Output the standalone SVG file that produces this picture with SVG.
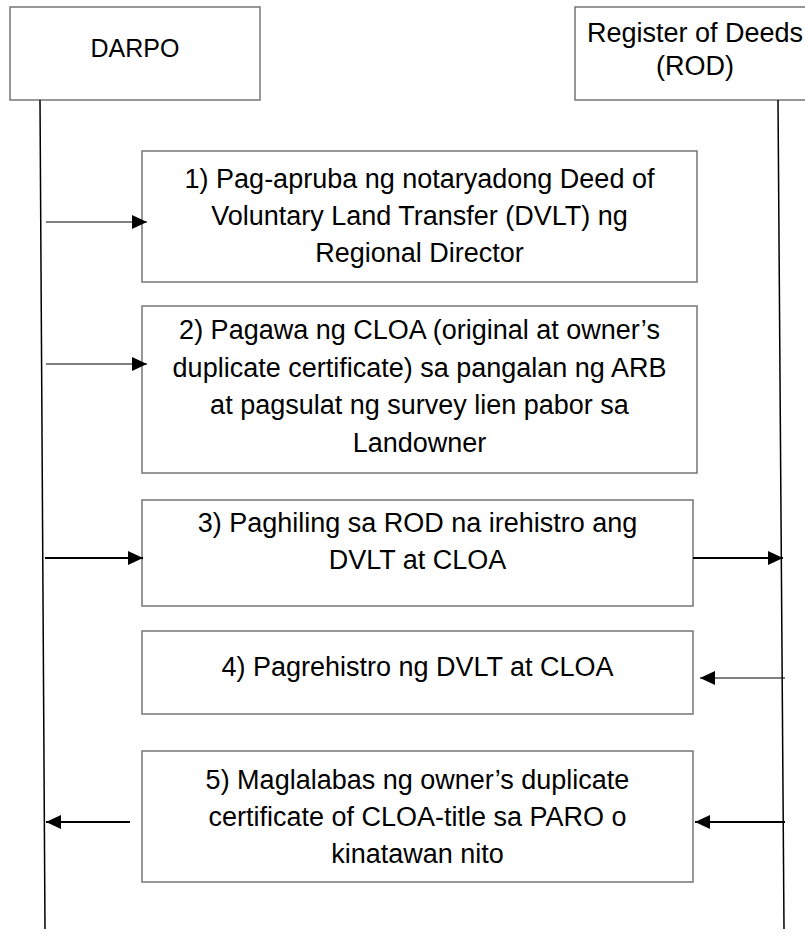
<svg xmlns="http://www.w3.org/2000/svg" width="805" height="939" viewBox="0 0 805 939">
  <style>
    .box { fill: #ffffff; stroke: #767676; stroke-width: 1.5; }
    .life { stroke: #000000; stroke-width: 1.5; fill: none; }
    .msg { stroke: #000000; stroke-width: 1.2; fill: none; }
    .msg-bold { stroke: #000000; stroke-width: 2; fill: none; }
    .lbl { font-family: "Liberation Sans", Arial, sans-serif; font-size: 27px; fill: #000000; text-anchor: middle; }
    .hdr { font-family: "Liberation Sans", Arial, sans-serif; font-size: 27px; fill: #000000; text-anchor: middle; }
  </style>
  <defs>
    <marker id="head" viewBox="0 0 15 14" refX="15" refY="7" markerWidth="15" markerHeight="14" markerUnits="userSpaceOnUse" orient="auto">
      <path d="M0,0 L15,7 L0,14 Z" fill="#000000"/>
    </marker>
  </defs>
  <rect width="805" height="939" fill="#ffffff"/>

  <!-- participants -->
  <g id="darpo">
    <rect class="box" x="10" y="7" width="250" height="93"/>
    <text class="hdr" x="135" y="57" style="font-size:25px">DARPO</text>
    <line class="life" x1="40" y1="100" x2="45" y2="929"/>
  </g>
  <g id="rod">
    <rect class="box" x="575" y="7" width="240" height="93"/>
    <text class="hdr" x="695" y="42">Register of Deeds</text>
    <text class="hdr" x="695" y="75">(ROD)</text>
    <line class="life" x1="778" y1="100" x2="784" y2="929"/>
  </g>

  <!-- steps -->
  <g id="step1">
    <rect class="box" x="142" y="151" width="555" height="131"/>
    <text class="lbl" x="419.5" y="188">1) Pag-apruba ng notaryadong Deed of</text>
    <text class="lbl" x="419.5" y="225">Voluntary Land Transfer  (DVLT) ng</text>
    <text class="lbl" x="419.5" y="262">Regional Director</text>
  </g>
  <g id="step2">
    <rect class="box" x="142" y="306" width="555" height="167"/>
    <text class="lbl" x="419.5" y="339">2) Pagawa ng CLOA (original at owner’s</text>
    <text class="lbl" x="419.5" y="377">duplicate certificate) sa pangalan ng ARB</text>
    <text class="lbl" x="419.5" y="414">at pagsulat ng survey lien pabor sa</text>
    <text class="lbl" x="419.5" y="452">Landowner</text>
  </g>
  <g id="step3">
    <rect class="box" x="142" y="500" width="551" height="106"/>
    <text class="lbl" x="417.5" y="532">3) Paghiling sa  ROD na irehistro ang</text>
    <text class="lbl" x="417.5" y="569">DVLT at CLOA</text>
  </g>
  <g id="step4">
    <rect class="box" x="142" y="631" width="551" height="83"/>
    <text class="lbl" x="417.5" y="676">4) Pagrehistro ng DVLT at CLOA</text>
  </g>
  <g id="step5">
    <rect class="box" x="142" y="751" width="551" height="131"/>
    <text class="lbl" x="417.5" y="789">5) Maglalabas ng owner’s duplicate</text>
    <text class="lbl" x="417.5" y="826">certificate of CLOA-title sa PARO o</text>
    <text class="lbl" x="417.5" y="863">kinatawan nito</text>
  </g>

  <!-- messages -->
  <g id="connectors">
    <line class="msg" x1="46" y1="222" x2="147" y2="222" marker-end="url(#head)"/>
    <line class="msg" x1="46" y1="364" x2="147" y2="364" marker-end="url(#head)"/>
    <line class="msg-bold" x1="45" y1="558" x2="143" y2="558" marker-end="url(#head)"/>
    <line class="msg-bold" x1="693" y1="558" x2="783" y2="558" marker-end="url(#head)"/>
    <line class="msg" x1="785" y1="678" x2="700" y2="678" marker-end="url(#head)"/>
    <line class="msg-bold" x1="130" y1="822" x2="46" y2="822" marker-end="url(#head)"/>
    <line class="msg-bold" x1="785" y1="822" x2="695" y2="822" marker-end="url(#head)"/>
  </g>
</svg>
